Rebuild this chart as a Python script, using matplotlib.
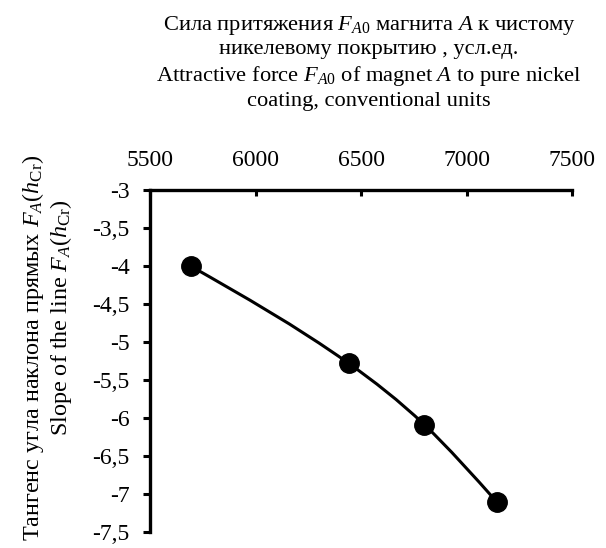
import numpy as np
import matplotlib
matplotlib.use("Agg")
import matplotlib.pyplot as plt
from matplotlib.path import Path
from matplotlib.patches import PathPatch
from matplotlib.ticker import FuncFormatter

plt.rcParams['font.family'] = 'Liberation Serif'
plt.rcParams['mathtext.fontset'] = 'custom'
plt.rcParams['mathtext.rm'] = 'Liberation Serif'
plt.rcParams['mathtext.it'] = 'Liberation Serif:italic'

# attractive force F_A0 vs slope of F_A(h_Cr)
force = [5690, 6440, 6800, 7145]
slope = [-4.0, -5.28, -6.09, -7.11]

xticks = [5500, 6000, 6500, 7000, 7500]
yticks = [-3, -3.5, -4, -4.5, -5, -5.5, -6, -6.5, -7, -7.5]


def smooth_path(x, y):
    # natural cubic spline through the points, written as bezier segments
    x = np.asarray(x, float)
    y = np.asarray(y, float)
    n = len(x)
    h = np.diff(x)
    A = np.zeros((n, n))
    b = np.zeros(n)
    A[0, 0] = A[-1, -1] = 1.0
    for i in range(1, n - 1):
        A[i, i - 1] = h[i - 1]
        A[i, i] = 2 * (h[i - 1] + h[i])
        A[i, i + 1] = h[i]
        b[i] = 6 * ((y[i + 1] - y[i]) / h[i] - (y[i] - y[i - 1]) / h[i - 1])
    M = np.linalg.solve(A, b)
    verts = [(x[0], y[0])]
    codes = [Path.MOVETO]
    for i in range(n - 1):
        s = (y[i + 1] - y[i]) / h[i]
        d0 = s - h[i] * (2 * M[i] + M[i + 1]) / 6
        d1 = s + h[i] * (M[i] + 2 * M[i + 1]) / 6
        verts += [(x[i] + h[i] / 3, y[i] + d0 * h[i] / 3),
                  (x[i + 1] - h[i] / 3, y[i + 1] - d1 * h[i] / 3),
                  (x[i + 1], y[i + 1])]
        codes += [Path.CURVE4] * 3
    return Path(verts, codes)


fig = plt.figure(figsize=(6.06, 5.48), dpi=100)
ax = fig.add_axes([0.2483, 0.0292, 0.6956, 0.6241])

ax.add_patch(PathPatch(smooth_path(force, slope), facecolor='none',
                       edgecolor='black', lw=2.2, zorder=2))
ax.plot(force, slope, 'o', color='black', ms=14, zorder=3)

ax.set_xlim(5500, 7500)
ax.set_ylim(-7.5, -3)
ax.set_xticks(xticks)
ax.set_yticks(yticks)
ax.yaxis.set_major_formatter(FuncFormatter(lambda v, p: ('%g' % v).replace('.', ',')))

ax.xaxis.tick_top()
for s in ['bottom', 'right']:
    ax.spines[s].set_visible(False)
for s in ['top', 'left']:
    ax.spines[s].set_linewidth(2.4)
ax.tick_params(axis='x', direction='in', length=4, width=2.2, pad=14, labelsize=17)
ax.tick_params(axis='y', direction='out', length=5, width=2.2, pad=10, labelsize=17)

fig.text(0.609, 0.975,
         'Сила притяжения $F_{A0}$ магнита $A$ к чистому\n'
         'никелевому покрытию , усл.ед.\n'
         'Attractive force $F_{A0}$ of magnet $A$ to pure nickel\n'
         'coating, conventional units',
         ha='center', va='top', fontsize=16.2, linespacing=1.27)

fig.text(33 / 606, 1 - 348 / 548,
         'Тангенс угла наклона прямых $F_A(h_{\\mathrm{Cr}})$',
         ha='center', va='center', rotation=90, fontsize=17.4)
fig.text(61 / 606, 1 - 318 / 548,
         'Slope of the line $F_A(h_{\\mathrm{Cr}})$',
         ha='center', va='center', rotation=90, fontsize=17.4)

fig.savefig('out.png', dpi=100)
